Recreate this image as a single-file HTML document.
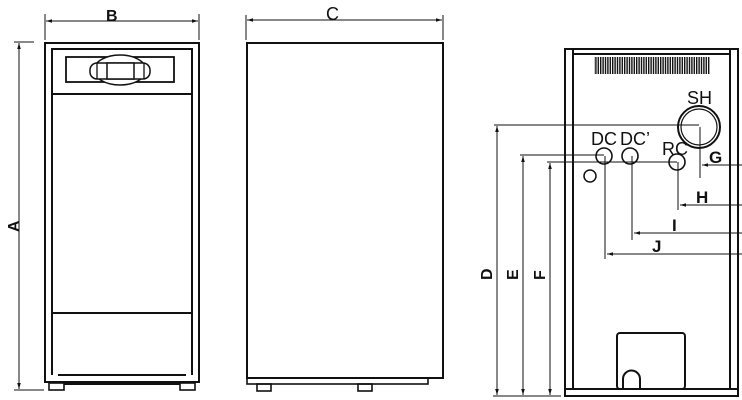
<!DOCTYPE html>
<html><head><meta charset="utf-8"><style>
html,body{margin:0;padding:0;background:#fff;width:742px;height:400px;overflow:hidden}
svg{display:block}
text{font-family:"Liberation Sans",sans-serif;fill:#111}
</style></head><body>
<svg width="742" height="400" viewBox="0 0 742 400" xmlns="http://www.w3.org/2000/svg">
<defs>
<pattern id="grill" width="2.4" height="20" patternUnits="userSpaceOnUse">
<rect x="0" y="0" width="1.4" height="20" fill="#111"/>
</pattern>
<marker id="ar" viewBox="0 0 10 10" refX="10" refY="5" markerWidth="6" markerHeight="6" orient="auto-start-reverse">
<path d="M0,2 L10,5 L0,8 z" fill="#111"/>
</marker>
</defs>
<g fill="none" stroke="#111" stroke-width="2">
<rect x="45" y="43" width="154" height="339"/>
<line x1="52" y1="48" x2="52" y2="375"/>
<line x1="192" y1="48" x2="192" y2="375"/>
<line x1="52" y1="49" x2="192" y2="49"/>
<line x1="52" y1="94" x2="192" y2="94"/>
<rect x="66" y="57" width="108" height="25" stroke-width="1.8"/>
<ellipse cx="120" cy="70" rx="26" ry="15" stroke-width="1.5" fill="#fff"/>
<rect x="90" y="63" width="60" height="16" rx="7" stroke-width="1.5" fill="#fff"/>
<rect x="107" y="63" width="27" height="16" stroke-width="1.5" fill="#fff"/>
<line x1="97" y1="63" x2="97" y2="79" stroke-width="1.3"/>
<line x1="144" y1="63" x2="144" y2="79" stroke-width="1.3"/>
<line x1="52" y1="313" x2="192" y2="313"/>
<line x1="58" y1="375" x2="186" y2="375"/>
<rect x="49" y="383" width="15" height="7" stroke-width="1.6"/>
<rect x="180" y="383" width="15" height="7" stroke-width="1.6"/>
<line x1="64" y1="384" x2="180" y2="384"/>
<g stroke-width="1">
<line x1="45" y1="14" x2="45" y2="40"/><line x1="199" y1="14" x2="199" y2="40"/>
<line x1="46" y1="21" x2="198" y2="21" marker-start="url(#ar)" marker-end="url(#ar)"/>
<line x1="14" y1="42" x2="34" y2="42"/><line x1="14" y1="390" x2="44" y2="390"/>
<line x1="19" y1="43" x2="19" y2="389" marker-start="url(#ar)" marker-end="url(#ar)"/>
</g>
<rect x="247" y="43" width="196" height="335"/>
<rect x="247" y="378" width="181" height="6" stroke-width="1.6"/>
<rect x="257" y="384" width="14" height="7" stroke-width="1.6"/>
<rect x="358" y="384" width="14" height="7" stroke-width="1.6"/>
<g stroke-width="1">
<line x1="246" y1="15" x2="246" y2="40"/><line x1="443" y1="15" x2="443" y2="40"/>
<line x1="247" y1="20" x2="442" y2="20" marker-start="url(#ar)" marker-end="url(#ar)"/>
</g>
<rect x="565" y="49" width="173" height="347"/>
<line x1="573" y1="49" x2="573" y2="389"/>
<line x1="730" y1="49" x2="730" y2="389"/>
<line x1="573" y1="54" x2="730" y2="54"/>
<line x1="565" y1="389" x2="738" y2="389"/>
<rect x="617" y="333" width="68" height="56" rx="3"/>
<path d="M623,389 V379 A8.5,8.5 0 0 1 640,379 V389"/>
<circle cx="699" cy="127" r="21" stroke-width="2"/>
<circle cx="699" cy="127" r="18" stroke-width="1.2"/>
<circle cx="604" cy="156" r="8" stroke-width="1.6"/>
<circle cx="630" cy="156" r="8" stroke-width="1.6"/>
<circle cx="677" cy="162" r="8" stroke-width="1.6"/>
<circle cx="590" cy="176" r="6" stroke-width="1.5"/>
<g stroke-width="1">
<line x1="494" y1="125" x2="699" y2="125"/>
<line x1="497" y1="126" x2="497" y2="395" marker-start="url(#ar)" marker-end="url(#ar)"/>
<line x1="520" y1="155" x2="604" y2="155"/>
<line x1="523" y1="156" x2="523" y2="395" marker-start="url(#ar)" marker-end="url(#ar)"/>
<line x1="547" y1="162" x2="677" y2="162"/>
<line x1="550" y1="163" x2="550" y2="395" marker-start="url(#ar)" marker-end="url(#ar)"/>
<line x1="493" y1="396" x2="561" y2="396"/>
<line x1="700" y1="127" x2="700" y2="178"/>
<line x1="742" y1="165" x2="702" y2="165" marker-end="url(#ar)"/>
<line x1="678" y1="162" x2="678" y2="210"/>
<line x1="742" y1="205" x2="680" y2="205" marker-end="url(#ar)"/>
<line x1="632" y1="156" x2="632" y2="240"/>
<line x1="742" y1="233" x2="634" y2="233" marker-end="url(#ar)"/>
<line x1="605" y1="156" x2="605" y2="259"/>
<line x1="742" y1="254" x2="607" y2="254" marker-end="url(#ar)"/>
</g>
</g>
<rect x="594" y="57" width="116" height="17" fill="url(#grill)"/>
<text x="106" y="21" font-size="16" font-weight="bold">B</text>
<text x="326" y="20" font-size="18">C</text>
<text transform="translate(19,232) rotate(-90)" font-size="16" font-weight="bold">A</text>
<text x="687" y="104" font-size="18">SH</text>
<text x="591" y="145" font-size="18">DC</text>
<text x="620" y="145" font-size="18">DC’</text>
<text x="662" y="155" font-size="18">RC</text>
<text x="709" y="163" font-size="17" font-weight="bold">G</text>
<text x="696" y="203" font-size="17" font-weight="bold">H</text>
<text x="672" y="231" font-size="17" font-weight="bold">I</text>
<text x="652" y="252" font-size="17" font-weight="bold">J</text>
<text transform="translate(492,280) rotate(-90)" font-size="16" font-weight="bold">D</text>
<text transform="translate(518,280) rotate(-90)" font-size="16" font-weight="bold">E</text>
<text transform="translate(545,280) rotate(-90)" font-size="16" font-weight="bold">F</text>
</svg>
</body></html>
